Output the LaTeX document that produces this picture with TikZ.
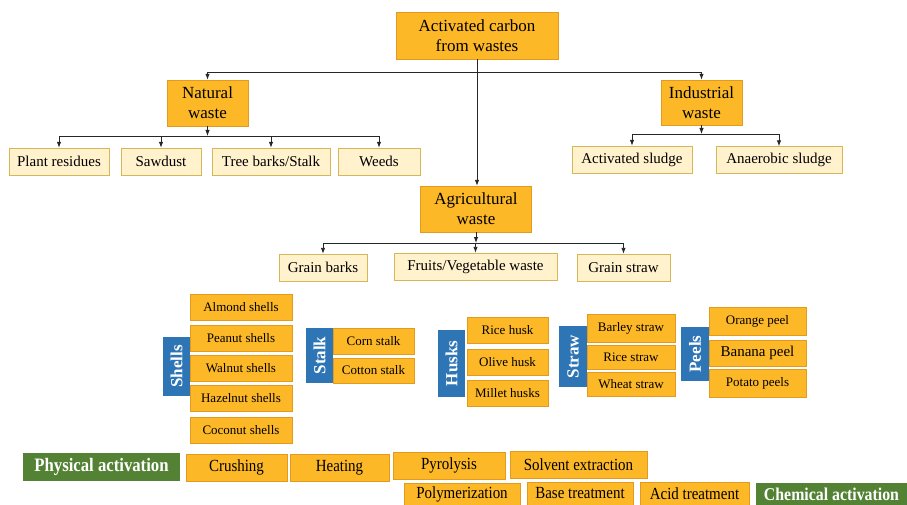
\documentclass[tikz,border=0pt]{standalone}
\usepackage{fontspec}
\setmainfont{Liberation Serif}
\newfontfamily\narrowfont[FakeStretch=0.88]{Liberation Serif}
\usetikzlibrary{arrows.meta}
\definecolor{orangebox}{HTML}{FDB827}
\definecolor{orangeline}{HTML}{E39A1E}
\definecolor{creambox}{HTML}{FFF2CC}
\definecolor{creamline}{HTML}{D6B656}
\definecolor{bluebox}{HTML}{2E75B6}
\definecolor{greenbox}{HTML}{548235}
\tikzset{
  mainbox/.style={draw=orangeline, fill=orangebox, align=center, inner sep=0pt, font=\fontsize{17}{20}\selectfont},
  subbox/.style={draw=creamline, fill=creambox, inner sep=0pt, minimum height=27pt, font=\fontsize{15}{18}\selectfont},
  itembox/.style={draw=orangeline, fill=orangebox, inner sep=0pt, minimum height=26pt, font=\fontsize{13}{15}\selectfont},
  catbox/.style={fill=bluebox, text=white, rotate=90, inner sep=0pt, minimum height=27pt, font=\fontsize{17}{19}\selectfont\bfseries},
  actbox/.style={fill=greenbox, text=white, inner sep=0pt, minimum height=28pt, font=\narrowfont\fontsize{19}{21}\selectfont\bfseries},
  stepbox/.style={draw=orangeline, fill=orangebox, inner sep=0pt, minimum height=27pt, font=\narrowfont\fontsize{17}{19}\selectfont},
  arr/.style={draw=black!85, line width=0.9pt, -{Latex[length=6pt,width=4.5pt]}},
  ln/.style={draw=black!85, line width=0.9pt}
}
\begin{document}
\begin{tikzpicture}[x=1pt, y=-1pt]
    \useasboundingbox (0,0) rectangle (907,505);
    \node[mainbox, minimum width=162pt, minimum height=47pt] (carbon) at (477,35.5) {Activated carbon\\from wastes};
    \node[mainbox, minimum width=81pt, minimum height=46pt] (nat) at (207.5,103) {Natural\\waste};
    \node[mainbox, minimum width=81pt, minimum height=45pt] (ind) at (701.5,102.5) {Industrial\\waste};
    \node[mainbox, minimum width=111pt, minimum height=46pt] (agri) at (476,209) {Agricultural\\waste};
    \node[subbox, minimum width=100pt] (plant) at (59,161.5) {Plant residues};
    \node[subbox, minimum width=80pt] (saw) at (161,161.5) {Sawdust};
    \node[subbox, minimum width=118pt] (tree) at (271,161.5) {Tree barks/Stalk};
    \node[subbox, minimum width=82pt] (weeds) at (379,161.5) {Weeds};
    \node[subbox, minimum width=120pt] (actsl) at (632,159.5) {Activated sludge};
    \node[subbox, minimum width=126pt] (anasl) at (779,160) {Anaerobic sludge};
    \node[subbox, minimum width=88pt] (grainb) at (323,267.5) {Grain barks};
    \node[subbox, minimum width=163pt] (fruit) at (475.5,266.5) {Fruits/Vegetable waste};
    \node[subbox, minimum width=93pt] (grains) at (623.5,267.5) {Grain straw};

    \coordinate (bus) at (477,72);
    \draw[ln] (carbon.south) -- (bus);
    \draw[arr] (bus) -| (nat.north);
    \draw[arr] (bus) -| (ind.north);
    \draw[arr] (carbon.south) -- (carbon.south |- agri.north);

    \coordinate (natbus) at (207.5,136);
    \draw[arr] (nat.south) -- (natbus);
    \foreach \n in {plant,saw,tree,weeds}
        \draw[arr] (natbus) -| (\n.north);
    \coordinate (indbus) at (701.5,134);
    \draw[arr] (ind.south) -- (indbus);
    \foreach \n in {actsl,anasl}
        \draw[arr] (indbus) -| (\n.north);
    \coordinate (agribus) at (476,243);
    \draw[arr] (agri.south) -- (agribus);
    \foreach \n in {grainb,fruit,grains}
        \draw[arr] (agribus) -| (\n.north);

    \node[catbox, minimum width=59pt] (shells) at (176.5,366.5) {Shells};
    \foreach \t/\y [count=\i] in {Almond shells/307, Peanut shells/338, Walnut shells/368, Hazelnut shells/398, Coconut shells/430.5}
        \node[itembox, minimum width=102pt] (shell\i) at (241,\y) {\t};
    \node[catbox, minimum width=55pt] (stalk) at (319.5,355.5) {Stalk};
    \node[itembox, minimum width=81pt] (corn) at (373.5,341) {Corn stalk};
    \node[itembox, minimum width=81pt, minimum height=25pt] (cotton) at (373.5,370.5) {Cotton stalk};
    \node[catbox, minimum width=67pt] (husks) at (451.5,363.5) {Husks};
    \foreach \t/\y [count=\i] in {Rice husk/330, Olive husk/362, Millet husks/393.5}
        \node[itembox, minimum width=81pt] (husk\i) at (507.5,\y) {\t};
    \node[catbox, minimum width=61pt, minimum height=28pt] (straw) at (573,356.5) {Straw};
    \node[itembox, minimum width=88pt, minimum height=28pt] (barley) at (631,328) {Barley straw};
    \node[itembox, minimum width=88pt, minimum height=24pt] (ricest) at (631,357) {Rice straw};
    \node[itembox, minimum width=88pt, minimum height=24pt] (wheat) at (631,384) {Wheat straw};
    \node[catbox, minimum width=54pt, minimum height=28pt] (peels) at (695,354) {Peels};
    \node[itembox, minimum width=97pt, minimum height=28pt] (orange) at (757.5,321) {Orange peel};
    \node[itembox, minimum width=97pt, font=\fontsize{15}{17}\selectfont] (banana) at (757.5,353) {Banana peel};
    \node[itembox, minimum width=97pt, minimum height=28pt] (potato) at (757.5,383) {Potato peels};

    \node[actbox, minimum width=157pt] (phys) at (101.5,467) {Physical activation};
    \node[stepbox, minimum width=101pt] (crush) at (236.5,467.5) {Crushing};
    \node[stepbox, minimum width=99pt] (heat) at (339.5,467.5) {Heating};
    \node[stepbox, minimum width=112pt] (pyro) at (449,465.5) {Pyrolysis};
    \node[stepbox, minimum width=137pt] (solv) at (578.5,464.5) {Solvent extraction};
    \node[stepbox, minimum width=116pt, minimum height=22pt] (poly) at (462,494) {Polymerization};
    \node[stepbox, minimum width=106pt, minimum height=23pt] (base) at (580,493.5) {Base treatment};
    \node[stepbox, minimum width=109pt, minimum height=23pt] (acid) at (694.5,493.5) {Acid treatment};
    \node[actbox, minimum width=151pt, minimum height=22pt, font=\narrowfont\fontsize{18}{20}\selectfont\bfseries] (chem) at (831.5,494) {Chemical activation};
\end{tikzpicture}
\end{document}
